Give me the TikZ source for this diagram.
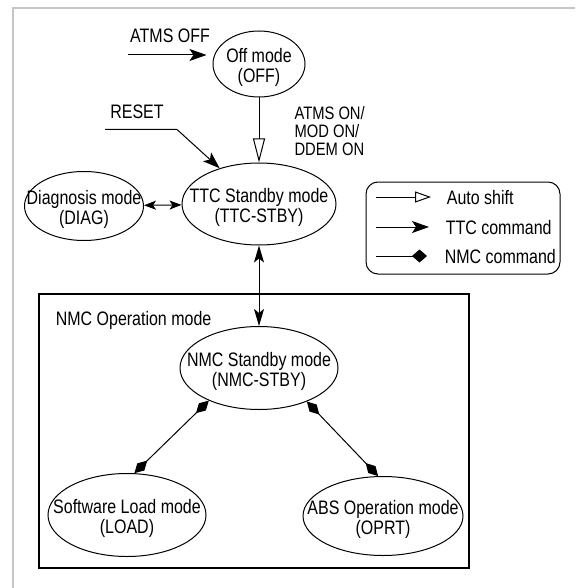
\documentclass[tikz,border=0pt]{standalone}
\usepackage{fontspec}
\setmainfont{Liberation Sans}[FakeStretch=0.82]
\usepackage{tikz}
\usetikzlibrary{shapes.geometric, arrows.meta, positioning}

\begin{document}
\begin{tikzpicture}[x=1pt, y=-1pt, line width=1pt,
    font=\fontsize{19.5}{20}\selectfont,
    mode/.style={ellipse, draw, inner sep=0pt,
      label={[align=center, yshift=-3pt]center:{#1}}},
    autoshift/.style={-{Triangle[open, length=24pt, width=12pt]}},
    ttccmd/.style={-{Stealth[length=17pt, width=12pt, inset=4pt]}},
    nmccmd/.style={{Diamond[length=18pt, width=10pt]}-{Diamond[length=18pt, width=10pt]}}]
  \useasboundingbox (0,0) rectangle (575,588);
  % Outer frame
  \draw[gray!45, line width=2pt] (13,588) -- (13,8) -- (575,8);

  % Modes outside NMC operation
  \node[mode={Off mode\\(OFF)}, minimum width=92pt, minimum height=66pt] (off) at (259,64) {};
  \node[mode={TTC Standby mode\\(TTC-STBY)}, minimum width=154pt, minimum height=82pt] (ttc) at (259,204) {};
  \node[mode={Diagnosis mode\\(DIAG)}, minimum width=119pt, minimum height=69pt] (diag) at (84,206) {};

  % NMC operation box
  \node[draw, line width=1.1pt, inner sep=0pt, minimum width=430pt, minimum height=274pt] (nmcbox) at (254,431) {};
  \node[anchor=base west] (nmcboxlbl) at (52,325) {NMC Operation mode};
  \node[mode={NMC Standby mode\\(NMC-STBY)}, minimum width=158pt, minimum height=83pt] (nmc) at (259,368) {};
  \node[mode={Software Load mode\\(LOAD)}, minimum width=158pt, minimum height=83pt] (load) at (127,515) {};
  \node[mode={ABS Operation mode\\(OPRT)}, minimum width=160pt, minimum height=79pt] (oprt) at (383,516) {};

  % Commands
  \node[anchor=base] (atmsofflbl) at (170,43) {ATMS OFF};
  \coordinate (offin) at (128,55);
  \draw[ttccmd, shorten >=6pt] (offin) -- (offin -| off.west);
  \draw[autoshift] (off) -- (ttc);
  \node[anchor=north west, align=left, inner sep=0pt, font=\fontsize{18}{18}\selectfont] (atmsonlbl) at (294,106) {ATMS ON/\\MOD ON/\\DDEM ON};
  \node[anchor=base] (resetlbl) at (137,119) {RESET};
  \coordinate (resetin) at (105,129.5);
  \coordinate (resetbend) at (177,129.5);
  \draw[ttccmd] (resetin) -- (resetbend) -- (ttc);
  \draw[{Stealth[length=12pt, width=9pt, inset=3pt]}-{Stealth[length=12pt, width=9pt, inset=3pt]}] (diag) -- (ttc);
  \draw[{Stealth[length=17pt, width=10pt, inset=4pt]}-{Stealth[length=17pt, width=10pt, inset=4pt]}] (ttc) -- (nmc);
  \draw[nmccmd] (nmc.213) -- (load.80);
  \draw[nmccmd] (nmc.325) -- (oprt.97);

  % Legend
  \node[draw, rounded corners=12pt, minimum width=194pt, minimum height=92pt] (legend) at (463,228) {};
  \coordinate (as1) at (376,197);
  \coordinate (as2) at (431,197);
  \draw[-{Triangle[open, length=16pt, width=11pt]}] (as1) -- (as2);
  \node[anchor=base west] (autoshiftlbl) at (443,204) {Auto shift};
  \coordinate (tc1) at (376,227);
  \coordinate (tc2) at (429,227);
  \draw[ttccmd] (tc1) -- (tc2);
  \node[anchor=base west] (ttccmdlbl) at (442,234) {TTC command};
  \coordinate (nc1) at (376,256);
  \coordinate (nc2) at (427,256);
  \draw[-{Diamond[length=15pt, width=13pt]}] (nc1) -- (nc2);
  \node[anchor=base west] (nmccmdlbl) at (441,263) {NMC command};
\end{tikzpicture}
\end{document}
